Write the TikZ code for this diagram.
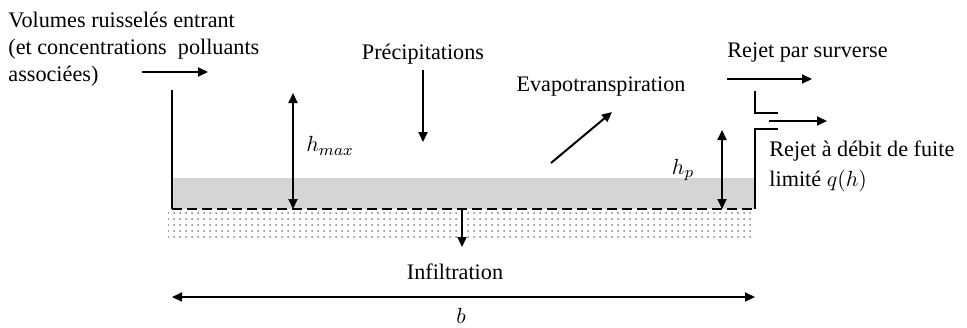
\documentclass[tikz,border=0pt]{standalone}
\usepackage{fontspec}
\setmainfont{Liberation Serif}
\usetikzlibrary{arrows.meta,patterns}

\begin{document}
\begin{tikzpicture}[x=0.5pt,y=-0.5pt,
  every node/.style={font=\fontsize{11.1}{13.5}\selectfont,inner sep=0pt},
  flux/.style={line width=1pt,-{Triangle[length=5pt,width=4.5pt]}},
  cote/.style={line width=1pt,{Triangle[length=5pt,width=4.5pt]}-{Triangle[length=5pt,width=4.5pt]}},
  paroi/.style={line width=1pt}]
\useasboundingbox (0,0) rectangle (967,327);
% eau et sol
\fill[gray!33] (172,178) rectangle (755,209);
\fill[pattern=dots,pattern color=gray] (168,211) rectangle (755,238);
\draw[line width=1.2pt,dash pattern=on 5pt off 2.5pt] (172,209) -- (755,209);
% parois du bassin
\coordinate (murG) at (172,90);
\coordinate (fondG) at (172,209);
\coordinate (fondD) at (755,209);
\coordinate (orifB) at (778,129);
\coordinate (orifH) at (778,113);
\coordinate (murD) at (755,91);
\draw[paroi] (murG) -- (fondG);
\draw[paroi] (fondD) -- (fondD |- orifB) -- (orifB);
\draw[paroi] (murD) -- (murD |- orifH) -- (orifH);
% textes
\node[anchor=north west,align=left] (entree) at (8,12)
  {Volumes ruisselés entrant\\(et concentrations~ polluants\\associées)};
\node (precip) at (423,54) {Précipitations};
\node (evapo) at (601,87) {Evapotranspiration};
\node[anchor=west] (surverse) at (727,53) {Rejet par surverse};
\node[anchor=north west,align=left,font=\fontsize{11.1}{15}\selectfont] (fuite) at (769,140)
  {Rejet à débit de fuite\\limité $q(h)$};
\node (infiltr) at (455,272) {Infiltration};
\node (hmax) at (330,146) {$h_{max}$};
\node (hp) at (683,170) {$h_p$};
\node (larg) at (461,316) {$b$};
% flux
\coordinate (e1) at (142,72);  \coordinate (e2) at (208,72);
\coordinate (p1) at (423,70);  \coordinate (p2) at (423,142);
\coordinate (v1) at (551,163); \coordinate (v2) at (612,112);
\coordinate (s1) at (727,79);  \coordinate (s2) at (812,79);
\coordinate (f1) at (769,121); \coordinate (f2) at (827,121);
\coordinate (i1) at (462,209); \coordinate (i2) at (462,247);
\draw[flux] (e1) -- (e2);
\draw[flux] (p1) -- (p2);
\draw[flux] (v1) -- (v2);
\draw[flux] (s1) -- (s2);
\draw[flux] (f1) -- (f2);
\draw[flux] (i1) -- (i2);
% cotes
\coordinate (hm1) at (293,93);  \coordinate (hm2) at (293,209);
\coordinate (hp1) at (722,130); \coordinate (hp2) at (722,209);
\coordinate (b1) at (172,297);  \coordinate (b2) at (755,297);
\draw[cote] (hm1) -- (hm2);
\draw[cote] (hp1) -- (hp2);
\draw[cote] (b1) -- (b2);
\end{tikzpicture}
\end{document}
